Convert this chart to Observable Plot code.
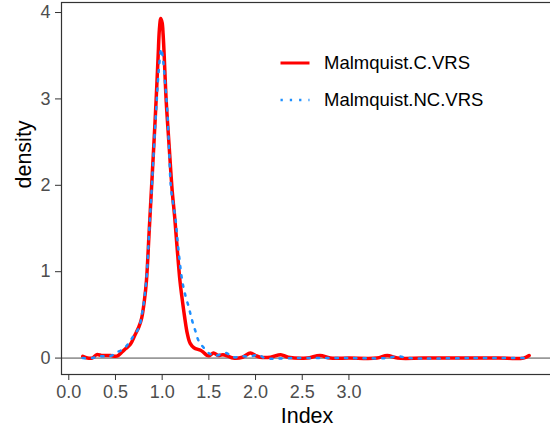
<!DOCTYPE html>
<html>
<head>
<meta charset="utf-8">
<script src="https://cdn.jsdelivr.net/npm/d3@7"></script>
<script src="https://cdn.jsdelivr.net/npm/@observablehq/plot@0.6"></script>
<style>
  body { margin: 0; background: #fff; }
  #wrap { position: relative; width: 550px; height: 432px; font-family: "Liberation Sans", Arial, sans-serif; }
  #wrap svg.plot [aria-label="x-axis tick label"], #wrap svg.plot [aria-label="y-axis tick label"] { fill: #4d4d4d; }
  .legend { position: absolute; left: 280px; top: 45px; }
  .legend .row { display: flex; align-items: center; height: 36.5px; }
  .legend .row span { margin-left: 14px; font-size: 18.5px; color: #000; }
</style>
</head>
<body>
<div id="wrap"></div>
<script>
// Series names and colours
const seriesNames = ["Malmquist.C.VRS", "Malmquist.NC.VRS"];
const seriesColors = ["#ff0000", "#1e90ff"];

// Malmquist.C.VRS density
const cX = [0.15,0.20,0.25,0.30,0.35,0.40,0.45,0.50,0.53,0.57,0.61,0.66,0.71,0.75,0.78,0.81,0.832,0.86,0.885,0.91,0.935,0.957,0.97,0.985,1.00,1.01,1.021,1.043,1.075,1.107,1.135,1.16,1.19,1.21,1.24,1.27,1.30,1.34,1.41,1.44,1.48,1.51,1.55,1.60,1.65,1.71,1.76,1.86,1.945,2.00,2.05,2.16,2.27,2.35,2.55,2.69,2.80,3.00,3.30,3.41,3.52,3.80,4.20,4.60,4.87,4.93];
const cY = [0.02,0.00,0.00,0.04,0.03,0.03,0.03,0.02,0.03,0.07,0.11,0.16,0.27,0.36,0.46,0.67,0.90,1.45,1.95,2.45,2.98,3.50,3.80,3.93,3.88,3.75,3.52,2.98,2.45,1.94,1.62,1.28,0.90,0.72,0.48,0.28,0.17,0.12,0.09,0.07,0.03,0.03,0.06,0.03,0.04,0.02,0.00,0.01,0.06,0.03,0.01,0.01,0.04,0.01,0.00,0.03,0.00,0.00,0.00,0.03,0.00,0.00,0.00,0.00,0.00,0.03];

// Malmquist.NC.VRS density
const ncX = [0.15,0.25,0.32,0.40,0.46,0.52,0.58,0.64,0.70,0.75,0.79,0.832,0.86,0.885,0.91,0.94,0.965,0.99,1.01,1.03,1.053,1.075,1.096,1.142,1.17,1.214,1.25,1.285,1.31,1.33,1.36,1.39,1.445,1.51,1.58,1.68,1.76,1.86,1.95,2.03,2.10,2.40,3.00,3.40,3.52,3.65,4.30,4.93];
const ncY = [0.00,0.00,0.02,0.02,0.03,0.07,0.10,0.17,0.27,0.35,0.55,0.92,1.45,1.90,2.40,2.95,3.35,3.58,3.45,3.20,2.90,2.40,1.95,1.62,1.30,0.90,0.72,0.59,0.48,0.40,0.30,0.20,0.12,0.05,0.03,0.06,0.01,0.02,0.02,0.04,0.00,0.00,0.00,0.00,0.02,0.00,0.00,0.00];

// Axis ticks
const xTicks = [0, 0.5, 1, 1.5, 2, 2.5, 3];
const yTicks = [0, 1, 2, 3, 4];

const cData = cX.map((x, i) => ({x, y: cY[i]}));
const ncData = ncX.map((x, i) => ({x, y: ncY[i]}));

const plot = Plot.plot({
  width: 550,
  height: 432,
  marginLeft: 61,
  marginRight: -2,
  marginTop: 2,
  marginBottom: 58,
  style: { fontFamily: '"Liberation Sans", Arial, sans-serif', background: "#fff", overflow: "visible" },
  x: { domain: [-0.078, 5.18] },
  y: { domain: [-0.19, 4.116] },
  marks: [
    Plot.ruleY([0], { stroke: "#999999", strokeWidth: 1.6 }),
    Plot.line(cData, { x: "x", y: "y", stroke: seriesColors[0], strokeWidth: 3.5, curve: "catmull-rom" }),
    Plot.line(ncData, { x: "x", y: "y", stroke: seriesColors[1], strokeWidth: 2.5, strokeDasharray: "2.3 7", curve: "catmull-rom" }),
    Plot.frame({ stroke: "#333333", strokeWidth: 1.2 }),
    Plot.axisX(xTicks, { tickSize: 6, tickPadding: 5, fontSize: 18, stroke: "#333333", tickFormat: d3.format(".1f"), label: null }),
    Plot.axisY(yTicks, { tickSize: 6, tickPadding: 5, fontSize: 18, stroke: "#333333", tickFormat: d => String(d), label: null }),
    Plot.text(["density"], { frameAnchor: "left", dx: -37, rotate: -90, fontSize: 21.5, fill: "#000", lineAnchor: "middle" }),
    Plot.text(["Index"], { frameAnchor: "bottom", dy: 42, fontSize: 21.5, fill: "#000", lineAnchor: "middle" })
  ]
});
plot.classList.add("plot");
const wrap = document.getElementById("wrap");
wrap.appendChild(plot);

// Legend (inside plot area, top right)
const legend = document.createElement("div");
legend.className = "legend";
seriesNames.forEach((name, i) => {
  const row = document.createElement("div");
  row.className = "row";
  const dash = i === 1 ? 'stroke-dasharray="2.3 7"' : "";
  const sw = i === 1 ? 2.5 : 3;
  row.innerHTML = `<svg width="30" height="10"><line x1="0.5" y1="5" x2="29.5" y2="5" stroke="${seriesColors[i]}" stroke-width="${sw}" ${dash}/></svg><span>${name}</span>`;
  legend.appendChild(row);
});
wrap.appendChild(legend);
</script>
</body>
</html>
